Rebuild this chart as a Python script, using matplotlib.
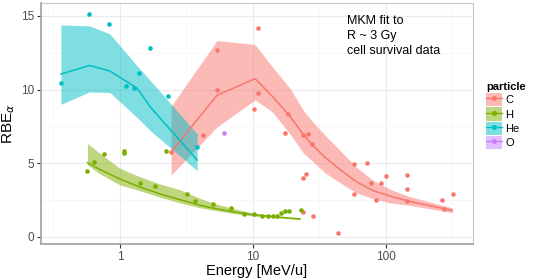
import matplotlib
matplotlib.use('Agg')
import matplotlib.pyplot as plt
from matplotlib.patches import Patch
from matplotlib.lines import Line2D

plt.rcParams['font.family'] = ['Liberation Sans', 'DejaVu Sans']
plt.rcParams['mathtext.fontset'] = 'dejavusans'

particles = ['C', 'H', 'He', 'O']
colors = {'C': '#F8766D', 'H': '#7CAE00', 'He': '#00BFC4', 'O': '#C77CFF'}

# measured points
c_pts_e = [2.43, 4.22, 5.38, 5.38, 10.2, 11.0, 11.0, 17.5, 18.5, 23.8, 24.0, 25.1, 24.0, 26.2,
           27.8, 28.5, 44, 57.6, 57.6, 72.5, 76.9, 83.8, 92.9, 100, 145, 145, 145, 267, 273, 321]
c_pts_y = [5.78, 6.89, 12.72, 9.95, 8.65, 14.19, 9.8, 7.07, 8.31, 6.89, 3.99, 4.28, 1.69, 6.98,
           6.28, 1.39, 0.27, 4.93, 2.9, 5.02, 3.65, 2.5, 3.65, 4.12, 4.23, 3.26, 2.45, 2.54, 1.91, 2.93]
h_pts_e = [0.569, 0.638, 0.759, 1.07, 1.07, 1.41, 1.83, 2.24, 3.2, 3.65, 4.99, 6.8, 8.52, 10.2,
           11.7, 12.9, 14.1, 15.1, 16.2, 17.6, 18.8, 22.9]
h_pts_y = [4.5, 5.09, 5.61, 5.85, 5.72, 3.65, 3.49, 5.85, 2.9, 2.47, 2.27, 1.98, 1.59, 1.53,
           1.44, 1.39, 1.44, 1.44, 1.64, 1.73, 1.73, 1.84]
he_pts_e = [0.359, 0.589, 0.827, 1.12, 1.28, 1.39, 1.67, 2.31, 3.81]
he_pts_y = [10.45, 15.13, 14.43, 10.24, 10.13, 11.1, 12.79, 9.55, 6.12]
o_pts_e = [6.03]
o_pts_y = [7.03]

# MKM model curves with bands
c_mod_e = [2.43, 5.38, 10.4, 14, 19, 24, 28, 35, 45, 60, 80, 110, 150, 220, 317]
c_mod_y = [5.78, 9.61, 10.74, 9.55, 8.2, 6.95, 6.25, 5.4, 4.6, 3.75, 3.15, 2.75, 2.42, 2.1, 1.8]
c_mod_hi = [8.87, 13.33, 13.06, 11.55, 10.1, 8.6, 7.85, 6.9, 5.9, 4.75, 3.85, 3.2, 2.75, 2.35, 1.97]
c_mod_lo = [4.2, 7.47, 9.3, 8.5, 7.0, 5.7, 5.15, 4.35, 3.7, 3.0, 2.6, 2.3, 2.15, 1.9, 1.65]

h_mod_e = [0.57, 0.7, 1.0, 1.4, 2.0, 2.85, 4.0, 5.0, 7.0, 10, 15, 22.7]
h_mod_y = [5.04, 4.6, 3.93, 3.4, 2.92, 2.52, 2.15, 1.96, 1.72, 1.51, 1.36, 1.22]
h_mod_hi = [6.35, 5.7, 4.66, 4.1, 3.6, 3.2, 2.62, 2.3, 1.95, 1.62, 1.42, 1.26]
h_mod_lo = [4.89, 4.3, 3.53, 3.15, 2.7, 2.3, 1.98, 1.82, 1.6, 1.42, 1.3, 1.18]

he_mod_e = [0.36, 0.59, 0.84, 1.35, 1.7, 3.81]
he_mod_y = [11.05, 11.64, 11.26, 10.09, 8.8, 5.22]
he_mod_hi = [14.39, 14.32, 13.78, 11.6, 10.6, 7.0]
he_mod_lo = [9.0, 9.84, 9.8, 8.1, 7.2, 4.5]

points = {'C': (c_pts_e, c_pts_y), 'H': (h_pts_e, h_pts_y),
          'He': (he_pts_e, he_pts_y), 'O': (o_pts_e, o_pts_y)}
models = {'C': (c_mod_e, c_mod_y, c_mod_lo, c_mod_hi),
          'H': (h_mod_e, h_mod_y, h_mod_lo, h_mod_hi),
          'He': (he_mod_e, he_mod_y, he_mod_lo, he_mod_hi)}

fig = plt.figure(figsize=(5.33, 2.8), dpi=100)
ax = fig.add_axes([0.077, 0.129, 0.81, 0.86])

for p in ['C', 'H', 'He']:
    e, y, lo, hi = models[p]
    ax.fill_between(e, lo, hi, color=colors[p], alpha=0.5, lw=0, zorder=2)
for p in ['C', 'H', 'He']:
    e, y, lo, hi = models[p]
    ax.plot(e, y, color=colors[p], lw=1.1, zorder=3)
for p in particles:
    e, y = points[p]
    ax.plot(e, y, 'o', color=colors[p], ms=3.3, mec='none', zorder=4)

ax.set_xscale('log')
ax.set_xlim(0.255, 452)
ax.set_ylim(-0.47, 15.87)
ax.set_xticks([1, 10, 100])
ax.set_xticklabels(['1', '10', '100'])
ax.set_xticks([0.316, 3.16, 31.6, 316], minor=True)
ax.set_yticks([0, 5, 10, 15])
ax.set_yticks([2.5, 7.5, 12.5], minor=True)
ax.tick_params(which='major', direction='out', length=3, width=0.8, color='#333333',
               labelsize=8.5, labelcolor='#4d4d4d', pad=2)
ax.tick_params(which='minor', length=0)
ax.grid(which='major', color='#ebebeb', lw=0.8)
ax.grid(which='minor', color='#f5f5f5', lw=0.5)
ax.set_axisbelow(True)
for s in ['top', 'right']:
    ax.spines[s].set_color('#c8c8c8')
for s in ['left', 'bottom']:
    ax.spines[s].set_color('#a0a0a0')
    ax.spines[s].set_linewidth(1.2)

ax.set_xlabel('Energy [MeV/u]', fontsize=10.5, labelpad=0.5)
ax.set_ylabel(r'RBE$_\alpha$', fontsize=11, labelpad=3)

ax.text(0.708, 0.95, 'MKM fit to\nR ~ 3 Gy\ncell survival data', transform=ax.transAxes,
        ha='left', va='top', fontsize=9, linespacing=1.3)

handles = [(Patch(facecolor=colors[p], alpha=0.5, edgecolor='none'),
            Line2D([], [], color=colors[p], lw=1, marker='o', ms=2.5)) for p in particles]
leg = fig.legend(handles, particles, title='particle', loc='upper left',
                 bbox_to_anchor=(486 / 533, 1 - 82 / 280), frameon=False, fontsize=8,
                 title_fontproperties={'weight': 'bold', 'size': 8},
                 handlelength=1.45, handleheight=1.45, labelspacing=0.1,
                 handletextpad=0.3, borderpad=0, borderaxespad=0, alignment='left')

fig.savefig('out.png', dpi=100)
